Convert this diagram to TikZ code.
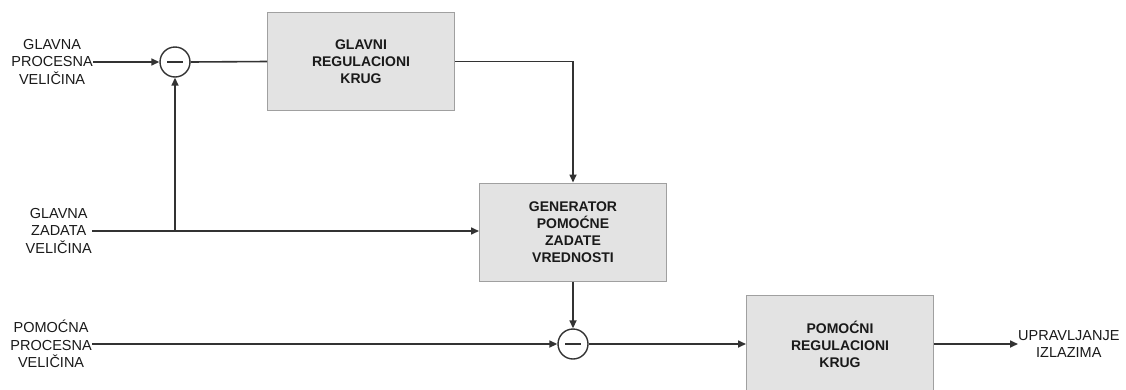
\documentclass[tikz,border=0pt]{standalone}
\usepackage{fontspec}
\setmainfont{Liberation Sans}
\usetikzlibrary{arrows.meta}
\definecolor{linec}{HTML}{333333}
\definecolor{boxfill}{HTML}{E3E3E3}
\definecolor{boxline}{HTML}{A0A0A0}
\definecolor{txt}{HTML}{1A1A1A}
\begin{document}
\begin{tikzpicture}[x=1pt,y=-1pt,
  blk/.style={draw=boxline, fill=boxfill, line width=1pt, minimum width=187pt, minimum height=98pt,
    align=center, text=txt, font=\fontsize{14}{17}\selectfont\bfseries, inner sep=0pt},
  lab/.style={align=center, text=txt, font=\fontsize{14.5}{17.5}\selectfont, inner sep=0pt},
  sumn/.style={circle, draw=linec, fill=white, line width=1.4pt, minimum size=30pt, inner sep=0pt,
    path picture={\draw[linec, line width=1.4pt] ([xshift=-8pt]path picture bounding box.center) -- ([xshift=8pt]path picture bounding box.center);}},
  conn/.style={draw=linec, line width=1.6pt},
  arr/.style={conn, -{Triangle[length=8pt, width=7pt]}}]
\useasboundingbox (0,0) rectangle (1126,389);
\clip (0,0) rectangle (1126,389);
\fill[white] (0,0) rectangle (1126,389);

\node[blk] (b1) at (361,61.5) {GLAVNI\\REGULACIONI\\KRUG};
\node[blk] (b2) at (573,232) {GENERATOR\\POMOĆNE\\ZADATE\\VREDNOSTI};
\node[blk] (b3) at (840,344) {POMOĆNI\\REGULACIONI\\KRUG};

\node[sumn] (s1) at (175,62) {};
\node[sumn] (s2) at (573,344) {};

\node[lab, anchor=east] (l1) at (93,62) {GLAVNA\\PROCESNA\\VELIČINA};
\node[lab, anchor=east] (l2) at (92,231) {GLAVNA\\ZADATA\\VELIČINA};
\node[lab, anchor=east] (l3) at (92,344) {POMOĆNA\\PROCESNA\\VELIČINA};
\node[lab, anchor=west] (out) at (1018,344) {UPRAVLJANJE\\IZLAZIMA};

\coordinate (j) at (175,231);

\draw[arr] (l1.east) -- (s1.west);
\draw[conn] (s1.east) -- (b1.west);
\draw[arr] (b1.east) -| (b2.north);
\draw[arr] (l2.east) -- (l2.east -| b2.west);
\draw[arr] (j) -- (s1.south);
\draw[arr] (b2.south) -- (s2.north);
\draw[arr] (l3.east) -- (s2.west);
\draw[arr] (s2.east) -- (b3.west);
\draw[arr] (b3.east) -- (out.west);
\end{tikzpicture}
\end{document}
